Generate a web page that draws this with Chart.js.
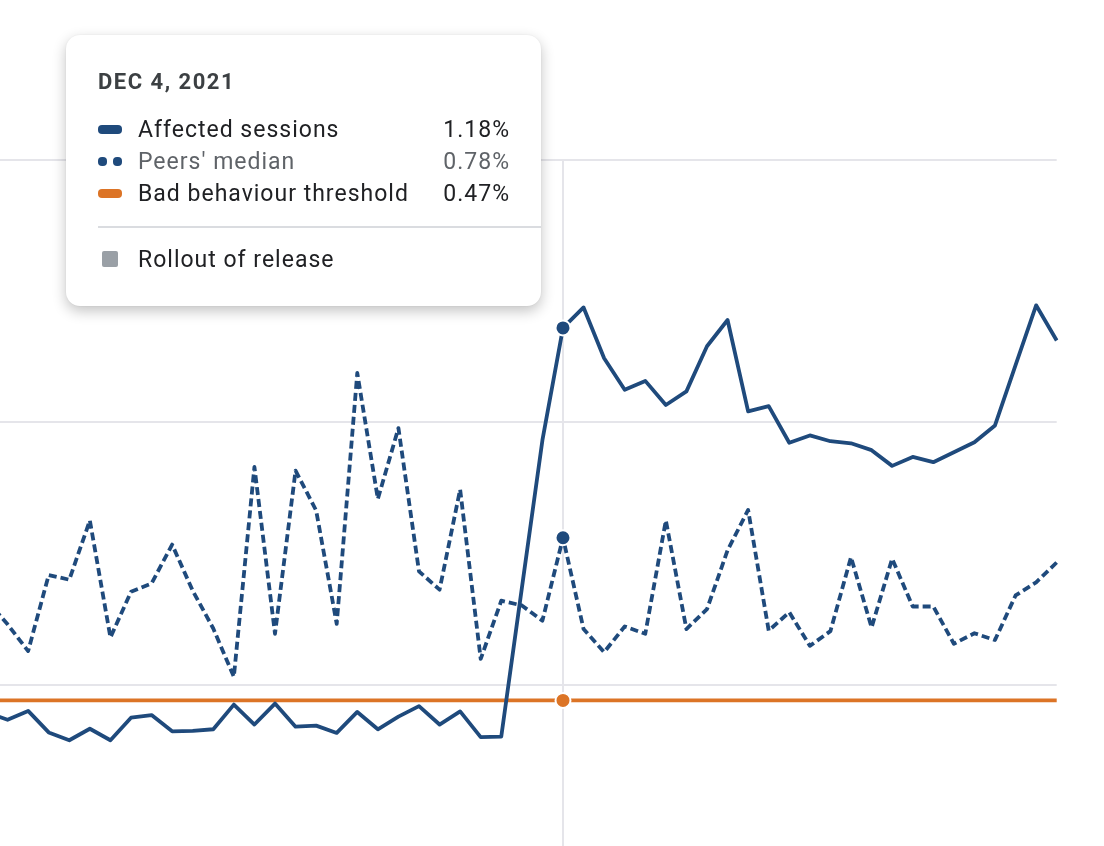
<!DOCTYPE html>
<html>
<head>
<meta charset="utf-8">
<script src="https://cdn.jsdelivr.net/npm/chart.js@4.4.1/dist/chart.umd.min.js"></script>
<style>
  html, body {
    margin: 0;
    padding: 0;
    width: 1104px;
    height: 846px;
    overflow: hidden;
    background: #fff;
    font-family: Roboto, "Noto Sans", sans-serif;
  }
  .chart-wrap {
    position: absolute;
    left: -13px;
    top: 0;
    width: 1117px;
    height: 960px;
  }
  .tip {
    position: absolute;
    left: 66px;
    top: 35px;
    width: 475px;
    height: 271px;
    background: #fff;
    border-radius: 14px;
    box-shadow: 0 5px 14px rgba(0, 0, 0, 0.24), 0 0 2px rgba(0, 0, 0, 0.08);
  }
  .tip__title {
    position: absolute;
    left: 32px;
    top: 35px;
    line-height: 24px;
    font-size: 22px;
    font-weight: 700;
    letter-spacing: 1.5px;
    color: #3c4043;
  }
  .tip__row {
    position: absolute;
    left: 32px;
    right: 32px;
    height: 32px;
    display: flex;
    align-items: center;
    font-size: 23px;
    letter-spacing: 1px;
    color: #202124;
  }
  .tip__row--muted { color: #5f6368; }
  .tip__icon {
    width: 24px;
    height: 9px;
    margin-right: 16px;
    display: flex;
    justify-content: space-between;
  }
  .tip__icon span { display: block; border-radius: 4px; }
  .tip__label { flex: 1; }
  .tip__value { margin-right: -1px; }
  .tip__divider {
    position: absolute;
    left: 32px;
    right: 0;
    top: 191px;
    height: 2px;
    background: #dadce0;
  }
  .tip__square {
    width: 16px;
    height: 16px;
    margin: 0 20px 0 4px;
    border-radius: 2px;
    background: #9aa0a6;
  }
</style>
</head>
<body>
<div class="chart-wrap"><canvas id="crash-chart"></canvas></div>
<div class="tip" id="tip">
  <div class="tip__title" id="tip-title"></div>
  <div class="tip__row" style="top:78px">
    <div class="tip__icon"><span style="width:24px;background:#1f4a7c"></span></div>
    <div class="tip__label" id="lbl-0"></div><div class="tip__value" id="val-0"></div>
  </div>
  <div class="tip__row tip__row--muted" style="top:110px">
    <div class="tip__icon"><span style="width:9px;background:#1f4a7c"></span><span style="width:9px;background:#1f4a7c"></span></div>
    <div class="tip__label" id="lbl-1"></div><div class="tip__value" id="val-1"></div>
  </div>
  <div class="tip__row" style="top:142px">
    <div class="tip__icon"><span style="width:24px;background:#dc7426"></span></div>
    <div class="tip__label" id="lbl-2"></div><div class="tip__value" id="val-2"></div>
  </div>
  <div class="tip__divider"></div>
  <div class="tip__row" style="top:208px">
    <div class="tip__square"></div>
    <div class="tip__label">Rollout of release</div>
  </div>
</div>
<script>
// daily points, Nov 6 -> Dec 28 2021
const days = [
  "Nov 6, 2021", "Nov 7, 2021", "Nov 8, 2021", "Nov 9, 2021", "Nov 10, 2021", "Nov 11, 2021",
  "Nov 12, 2021", "Nov 13, 2021", "Nov 14, 2021", "Nov 15, 2021", "Nov 16, 2021", "Nov 17, 2021",
  "Nov 18, 2021", "Nov 19, 2021", "Nov 20, 2021", "Nov 21, 2021", "Nov 22, 2021", "Nov 23, 2021",
  "Nov 24, 2021", "Nov 25, 2021", "Nov 26, 2021", "Nov 27, 2021", "Nov 28, 2021", "Nov 29, 2021",
  "Nov 30, 2021", "Dec 1, 2021", "Dec 2, 2021", "Dec 3, 2021", "Dec 4, 2021", "Dec 5, 2021",
  "Dec 6, 2021", "Dec 7, 2021", "Dec 8, 2021", "Dec 9, 2021", "Dec 10, 2021", "Dec 11, 2021",
  "Dec 12, 2021", "Dec 13, 2021", "Dec 14, 2021", "Dec 15, 2021", "Dec 16, 2021", "Dec 17, 2021",
  "Dec 18, 2021", "Dec 19, 2021", "Dec 20, 2021", "Dec 21, 2021", "Dec 22, 2021", "Dec 23, 2021",
  "Dec 24, 2021", "Dec 25, 2021", "Dec 26, 2021", "Dec 27, 2021", "Dec 28, 2021",
];

const seriesNames = ["Affected sessions", "Peers' median", "Bad behaviour threshold"];

// % of sessions
const affected = [
  0.447, 0.433, 0.450, 0.409, 0.394, 0.416, 0.394, 0.437, 0.442, 0.411,
  0.412, 0.415, 0.462, 0.424, 0.464, 0.420, 0.422, 0.408, 0.448, 0.415,
  0.439, 0.459, 0.424, 0.449, 0.400, 0.401, 0.684, 0.966, 1.18, 1.219,
  1.122, 1.062, 1.079, 1.033, 1.059, 1.145, 1.195, 1.021, 1.031, 0.961,
  0.975, 0.964, 0.960, 0.947, 0.917, 0.934, 0.924, 0.943, 0.962, 0.994,
  1.109, 1.223, 1.156,
];

const peers = [
  0.660, 0.615, 0.564, 0.709, 0.700, 0.813, 0.590, 0.677, 0.693, 0.767,
  0.679, 0.607, 0.515, 0.915, 0.597, 0.908, 0.832, 0.616, 1.094, 0.854,
  0.989, 0.716, 0.681, 0.872, 0.549, 0.660, 0.651, 0.622, 0.78, 0.606,
  0.562, 0.611, 0.597, 0.813, 0.606, 0.644, 0.756, 0.833, 0.603, 0.638,
  0.574, 0.602, 0.743, 0.609, 0.740, 0.649, 0.649, 0.578, 0.598, 0.585,
  0.670, 0.695, 0.733,
];

const threshold = [
  0.47, 0.47, 0.47, 0.47, 0.47, 0.47, 0.47, 0.47, 0.47, 0.47,
  0.47, 0.47, 0.47, 0.47, 0.47, 0.47, 0.47, 0.47, 0.47, 0.47,
  0.47, 0.47, 0.47, 0.47, 0.47, 0.47, 0.47, 0.47, 0.47, 0.47,
  0.47, 0.47, 0.47, 0.47, 0.47, 0.47, 0.47, 0.47, 0.47, 0.47,
  0.47, 0.47, 0.47, 0.47, 0.47, 0.47, 0.47, 0.47, 0.47, 0.47,
  0.47, 0.47, 0.47,
];

const hoverIndex = 28;

const blue = "#1f4a7c";
const orange = "#dc7426";
const gridColor = "#e5e5ea";

const dotRadius = (ctx) => (ctx.dataIndex === hoverIndex ? 7.5 : 0);

const hoverLine = {
  id: "hoverLine",
  beforeDatasetsDraw(chart) {
    const { ctx, chartArea } = chart;
    const x = chart.scales.x.getPixelForValue(hoverIndex);
    ctx.save();
    ctx.strokeStyle = gridColor;
    ctx.lineWidth = 2;
    ctx.beginPath();
    ctx.moveTo(x, chartArea.top);
    ctx.lineTo(x, chartArea.bottom);
    ctx.stroke();
    ctx.restore();
  },
};

const lineSet = (label, data, color, dash) => ({
  label: label,
  data: data,
  borderColor: color,
  backgroundColor: color,
  borderWidth: 3.8,
  borderDash: dash,
  borderJoinStyle: "round",
  tension: 0,
  pointRadius: dotRadius,
  pointBackgroundColor: color,
  pointBorderColor: "#fff",
  pointBorderWidth: 2,
});

new Chart(document.getElementById("crash-chart"), {
  type: "line",
  plugins: [hoverLine],
  data: {
    labels: days,
    datasets: [
      lineSet(seriesNames[0], affected, blue, []),
      lineSet(seriesNames[1], peers, blue, [8, 4]),
      lineSet(seriesNames[2], threshold, orange, []),
    ],
  },
  options: {
    responsive: true,
    maintainAspectRatio: false,
    animation: false,
    events: [],
    layout: { padding: { top: 160, right: 47.3, bottom: 13, left: 0 } },
    plugins: {
      legend: { display: false },
      tooltip: { enabled: false },
    },
    scales: {
      x: {
        display: false,
        offset: false,
      },
      y: {
        min: 0,
        max: 1.5,
        border: { display: false },
        grid: { color: gridColor, lineWidth: 2, drawTicks: false },
        ticks: { display: false, stepSize: 0.5 },
      },
    },
  },
});

// tooltip box content
document.getElementById("tip-title").textContent = days[hoverIndex].toUpperCase();
const hoverValues = [affected[hoverIndex], peers[hoverIndex], threshold[hoverIndex]];
seriesNames.forEach((name, i) => {
  document.getElementById("lbl-" + i).textContent = name;
  document.getElementById("val-" + i).textContent = hoverValues[i].toFixed(2) + "%";
});
</script>
</body>
</html>
